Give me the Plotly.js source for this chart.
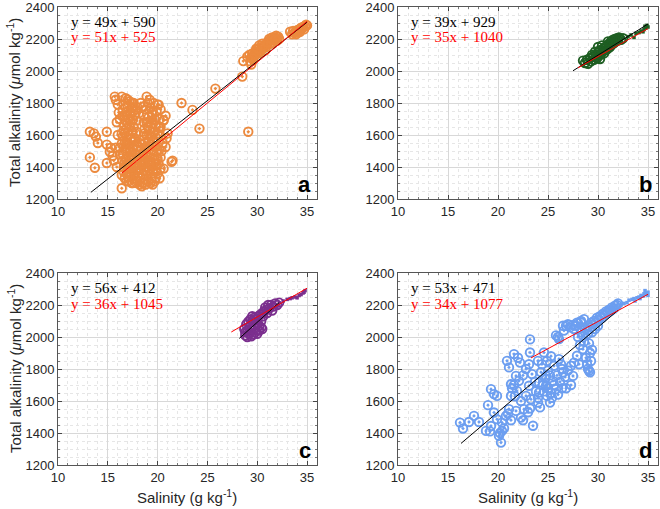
<!DOCTYPE html>
<html>
<head>
<meta charset="utf-8">
<script src="https://cdn.plot.ly/plotly-3.0.1.min.js"></script>
<style>html,body{margin:0;padding:0;background:#fff;}#chart{width:660px;height:509px;}</style>
</head>
<body>
<div id="chart"></div>
<script>
// ---------- DATA ----------
// Panel a (orange)
const aX = [16.4,16.8,17.2,17.6,16.6,17.0,17.4,17.8,16.9,17.3,16.5,17.7,17.1,16.8,17.5,16.6,17.2,17.6,16.9,17.4,16.7,17.1,17.8,16.5,17.3,16.9,17.6,16.4,17.1,17.5,16.8,16.2,17.9,18.0,18.3,18.6,18.1,15.8,16.0,16.1,15.9,
  18.9,19.2,19.6,20.0,18.8,19.3,19.9,18.6,19.1,19.5,20.2,18.9,19.4,19.8,18.7,19.2,19.7,20.1,18.9,19.4,19.9,18.6,19.1,19.6,20.3,20.6,20.3,
  16.5,16.8,17.0,17.2,16.6,16.9,16.4,17.3,17.6,17.4,17.7,17.9,18.1,18.3,18.5,18.2,18.7,18.9,19.1,19.4,19.6,19.2,18.8,18.4,18.0,17.8,18.2,18.6,19.0,19.4,19.8,20.1,19.7,19.3,18.9,18.5,19.1,19.5,19.9,20.3,20.0,20.4,17.5,17.2,16.8,17.0,18.0,17.8,18.6,19.0,19.8,20.0,17.5,19.5,18.3,17.6,16.9,20.6,20.5,
  16.7,17.1,17.4,17.9,18.4,18.8,19.3,19.7,20.2,20.3,20.0,19.6,19.2,18.7,18.3,17.9,17.4,17.1,16.7,16.6,17.0,17.5,18.0,18.5,19.0,19.5,19.9,19.4,19.8,20.2,18.8,18.4,18.0,17.6,17.2,18.7,18.2,19.0,18.5,16.9,16.5,17.3,
  16.5,17.0,17.4,16.7,17.2,16.6,17.0,17.4,16.7,17.7,17.9,17.3,16.4,17.6,19.0,19.4,19.7,19.0,19.5,20.0,18.7,19.3,20.3,18.6,
  13.2,13.2,13.7,13.8,14.0,13.6,14.9,14.9,14.9,15.2,15.5,15.7,15.8,15.6,15.9,16.4,16.2,15.3,20.1,20.6,20.2,20.9,20.8,21.4,21.5,22.4,23.5,24.2,25.8,28.5,28.6,29.1,16.2,16.0,21.0,20.8,
  29.0,29.2,29.4,29.5,29.7,29.8,30.0,30.1,30.3,30.4,30.6,30.7,30.9,31.0,31.1,31.3,31.4,31.5,31.6,31.7,31.8,31.9,32.0,32.1,30.2,30.5,31.2,29.9,30.8,31.5,29.3,29.6,32.0,29.4,
  29.8,30.2,30.6,31.0,31.4,29.5,30.0,31.8,32.2,
  33.3,33.5,33.6,33.8,34.0,34.2,34.3,34.5,34.6,34.7,34.8,34.9,35.0,34.4,33.9,34.1];
const aY = [1840,1830,1810,1800,1790,1775,1770,1760,1745,1735,1720,1725,1700,1690,1695,1665,1660,1650,1640,1625,1610,1600,1610,1590,1580,1565,1560,1545,1540,1525,1515,1520,1690,1770,1800,1780,1735,1820,1790,1740,1680,
  1840,1820,1800,1790,1760,1770,1750,1720,1710,1730,1700,1680,1670,1660,1640,1630,1620,1645,1600,1590,1580,1570,1560,1555,1650,1690,1590,
  1480,1450,1420,1390,1400,1370,1350,1340,1360,1450,1420,1390,1360,1330,1300,1290,1320,1350,1310,1330,1360,1380,1400,1420,1450,1480,1500,1470,1440,1410,1390,1420,1450,1480,1510,1540,1530,1510,1490,1460,1530,1500,1510,1490,1500,1550,1310,1330,1380,1400,1330,1360,1300,1290,1460,1400,1310,1390,1550,
  1330,1310,1300,1300,1280,1290,1300,1310,1330,1390,1450,1420,1440,1440,1390,1420,1420,1460,1430,1370,1340,1380,1340,1350,1370,1380,1420,1540,1530,1510,1480,1510,1530,1470,1520,1550,1550,1470,1420,1410,1440,1400,
  1760,1820,1800,1720,1740,1630,1670,1560,1550,1580,1620,1690,1610,1750,1800,1740,1700,1650,1690,1610,1610,1600,1760,1680,
  1620,1460,1395,1590,1550,1610,1620,1540,1425,1495,1470,1840,1520,1440,1400,1267,1480,1520,1790,1693,1650,1580,1525,1433,1440,1800,1757,1640,1890,1965,2062,1620,1700,1600,1610,1720,
  2090,2100,2085,2110,2100,2120,2110,2135,2125,2145,2140,2155,2150,2165,2180,2170,2190,2175,2200,2190,2210,2220,2205,2215,2160,2170,2200,2140,2130,2210,2060,2070,2190,2040,
  2100,2110,2160,2180,2205,2080,2140,2195,2200,
  2245,2230,2250,2240,2255,2260,2245,2265,2275,2260,2280,2290,2285,2270,2230,2240];

// Panel b (green)
const bX = [28.5,28.7,28.9,29.0,29.2,29.3,29.5,29.6,29.8,29.9,30.0,30.1,30.2,30.3,30.4,30.5,30.6,30.7,30.8,30.9,31.0,31.1,31.2,31.3,31.4,31.5,31.6,31.7,31.8,31.9,32.0,32.1,32.3,30.0,30.4,29.7,31.0,29.4,30.2,32.5];
const bY = [2065,2050,2070,2045,2080,2060,2090,2070,2100,2080,2115,2095,2130,2105,2120,2140,2110,2150,2130,2160,2140,2170,2150,2185,2165,2195,2175,2200,2185,2205,2190,2210,2195,2150,2160,2120,2185,2100,2075,2205];
const bDotX = [33.0,33.3,33.6,33.8,34.1,34.3,34.5,34.6,34.8,34.9,35.0,34.7];
const bDotY = [2215,2225,2210,2235,2240,2250,2245,2260,2270,2285,2275,2280];

// Panel c (purple)
const cX = [28.8,29.0,29.2,29.4,29.6,29.8,30.0,30.2,29.0,29.2,29.4,29.6,29.8,30.0,30.2,30.4,28.9,29.1,29.3,29.5,29.7,29.9,30.1,30.3,30.5,30.7,30.9,30.6,30.8,31.0,31.2,31.4,31.6,31.8,32.0,32.2,31.5,30.4,28.7,28.8,30.5,29.5,31.1];
const cY = [2010,2000,2020,2005,2015,2030,2020,2040,2040,2060,2050,2070,2060,2080,2070,2060,2080,2095,2110,2100,2120,2110,2130,2140,2150,2160,2170,2130,2185,2150,2180,2200,2190,2210,2200,2215,2165,2100,2050,2030,2050,2130,2200];
const cDotX = [32.6,33.0,33.3,33.5,33.8,34.0,34.2,34.4,34.6,34.8,34.7];
const cDotY = [2225,2235,2240,2245,2250,2245,2260,2265,2275,2290,2280];

// Panel d (blue)
const dX = [16.2,16.5,17.1,17.6,18.1,18.8,19.0,19.3,19.6,19.9,19.3,19.6,19.9,20.1,20.3,20.4,20.4,20.8,21.1,20.9,21.1,21.3,21.3,21.6,21.8,22.1,21.9,22.3,21.8,22.3,22.6,22.8,22.8,23.2,23.2,23.1,23.4,23.1,23.3,23.2,23.5,24.0,24.1,24.1,24.0,24.4,24.6,24.8,24.8,24.9,25.5,25.6,25.8,26.1,26.1,26.5,26.8,26.8,27.3,27.5,27.8,27.9,28.1,28.5,28.9,29.1,28.3,28.6,
  24.5,24.7,25.0,25.2,25.0,25.3,25.6,25.9,26.2,26.4,26.0,25.4,24.6,24.3,24.9,25.3,26.3,26.7,27.0,27.6,22.0,22.2,21.6,21.4,22.5,23.7,23.8,24.2,25.2,20.6,21.0,21.7,22.5,23.0,26.4,27.3,24.0,19.2,21.3,20.2,
  28.0,28.3,28.5,28.7,28.9,29.0,29.2,29.3,29.5,29.6,29.8,29.9,30.1,30.2,30.4,30.5,30.7,30.8,31.0,31.1,31.3,31.4,31.6,31.7,31.9,32.0,29.4,29.0,28.6,29.7,30.0,28.2,27.6,27.2,26.6,26.0,25.8,27.9,26.5,27.0,27.5,28.0,28.3,29.1,29.2,29.3,29.0,29.2,28.8,29.4];
const dY = [1465,1428,1469,1507,1469,1413,1574,1674,1643,1632,1444,1528,1486,1382,1340,1413,1465,1507,1549,1851,1810,1705,1632,1893,1757,1726,1663,1600,1538,1496,1549,1632,1800,1985,1903,1830,1768,1695,1611,1553,1445,1590,1653,1716,1851,1830,1903,1757,1695,1632,1726,1820,1674,1987,1862,1778,1680,2070,1820,1757,2070,1883,1830,1924,1830,1789,2091,2112,
  1700,1740,1680,1760,1790,1650,1700,1760,1720,1680,1640,1620,1660,1780,1850,1880,1830,1750,1790,1840,1870,1840,1700,1680,1760,1720,1660,1560,1590,1430,1520,1630,1480,1530,1800,1700,1620,1410,1480,1400,
  2000,2030,2010,2050,2040,2070,2060,2090,2080,2100,2090,2120,2110,2130,2120,2145,2140,2160,2155,2170,2165,2185,2180,2195,2200,2210,2030,2020,1970,2050,2070,1950,2050,2060,2040,2000,2010,2090,2070,2080,2075,2085,2100,1960,1900,1850,1800,1780,1870,1920];
const dDotX = [32.3,32.6,32.9,33.1,33.4,33.6,33.9,34.1,34.3,34.5,34.6,34.8,35.0,34.9,34.2,33.7,35.0,34.7];
const dDotY = [2200,2210,2215,2230,2235,2240,2245,2250,2260,2255,2270,2275,2280,2265,2240,2225,2260,2290];

// Regression fits: [slope, intercept], line x-extent
const panels = ['a','b','c','d'];
const blackFit = [[49,590],[39,929],[56,412],[53,471]];
const redFit   = [[51,525],[35,1040],[36,1045],[34,1077]];
const blackRange = [[13.3,35],[27.5,35],[28.2,32.2],[16.3,32.0]];
const redRange   = [[16.4,35],[28.0,35],[27.4,35],[23.3,35]];
const blackLabels = ['y = 49x + 590','y = 39x + 929','y = 56x + 412','y = 53x + 471'];
const redLabels   = ['y = 51x + 525','y = 35x + 1040','y = 36x + 1045','y = 34x + 1077'];
const xTicks = [10,15,20,25,30,35];
const yTicks = [1200,1400,1600,1800,2000,2200,2400];
const yTitle = 'Total alkalinity (<i>μ</i>mol kg<sup>-1</sup>)';
const xTitle = 'Salinity (g kg<sup>-1</sup>)';

// ---------- BUILD ----------
const colors = ['#EC8A3E','#1E5E22','#7B2F8E','#6C9EF0'];
const pts = [[aX,aY],[bX,bY],[cX,cY],[dX,dY]];
const dots = [null,[bDotX,bDotY],[cDotX,cDotY],[dDotX,dDotY]];
const traces = [];
panels.forEach((p,i)=>{
  const xa = i===0?'x':'x'+(i+1), ya = i===0?'y':'y'+(i+1);
  traces.push({x:pts[i][0], y:pts[i][1], xaxis:xa, yaxis:ya, type:'scatter', mode:'markers',
    marker:{symbol:'circle-open-dot', size:8.5, color:colors[i], line:{width:1.9, color:colors[i]}}, hoverinfo:'skip'});
  if(dots[i]) traces.push({x:dots[i][0], y:dots[i][1], xaxis:xa, yaxis:ya, type:'scatter', mode:'markers',
    marker:{symbol:'square', size:3.5, color:colors[i]}, hoverinfo:'skip'});
  const bl = blackRange[i], rl = redRange[i];
  traces.push({x:bl, y:bl.map(v=>blackFit[i][0]*v+blackFit[i][1]), xaxis:xa, yaxis:ya, mode:'lines', line:{color:'#000', width:1}, hoverinfo:'skip'});
  traces.push({x:rl, y:rl.map(v=>redFit[i][0]*v+redFit[i][1]), xaxis:xa, yaxis:ya, mode:'lines', line:{color:'#ff0000', width:1}, hoverinfo:'skip'});
});

const W=660,H=509;
const boxes = [[58,317,7,199],[398,658,7,199],[58,317,273,465],[398,658,273,465]];
const font = {family:'Liberation Sans, Arial, sans-serif', size:13, color:'#262626'};
const layout = {width:W, height:H, margin:{l:0,r:0,t:0,b:0}, showlegend:false,
  paper_bgcolor:'#fff', plot_bgcolor:'#fff', font:font, annotations:[]};
boxes.forEach((b,i)=>{
  const xk = i===0?'xaxis':'xaxis'+(i+1), yk = i===0?'yaxis':'yaxis'+(i+1);
  const ya = i===0?'y':'y'+(i+1), xa = i===0?'x':'x'+(i+1);
  layout[xk] = {domain:[b[0]/W,b[1]/W], range:[10,36], anchor:ya, tickvals:xTicks, ticks:'inside', ticklen:4,
    tickcolor:'#444', showline:true, mirror:'ticks', linecolor:'#555', linewidth:1, zeroline:false,
    gridcolor:'#d8d8d8', gridwidth:1, tickfont:font, ticklabeloverflow:'allow',
    minor:{dtick:1, ticks:'inside', ticklen:2, tickcolor:'#777', showgrid:true, gridcolor:'#e6e6e6', griddash:'dot', gridwidth:1}};
  layout[yk] = {domain:[1-b[3]/H,1-b[2]/H], range:[1200,2400], anchor:xa, tickvals:yTicks, ticks:'inside', ticklen:4,
    tickcolor:'#444', showline:true, mirror:'ticks', linecolor:'#555', linewidth:1, zeroline:false,
    gridcolor:'#d8d8d8', gridwidth:1, tickfont:font, ticklabeloverflow:'allow',
    minor:{dtick:50, ticks:'inside', ticklen:2, tickcolor:'#777', showgrid:true, gridcolor:'#e6e6e6', griddash:'dot', gridwidth:1}};
  const tx = b[0]+11;
  layout.annotations.push({xref:'paper', yref:'paper', x:tx/W, y:1-(b[2]+15)/H, xanchor:'left', yanchor:'middle',
    text:blackLabels[i], showarrow:false, font:{family:'Liberation Serif, Times New Roman, serif', size:15, color:'#000'}});
  layout.annotations.push({xref:'paper', yref:'paper', x:tx/W, y:1-(b[2]+30.5)/H, xanchor:'left', yanchor:'middle',
    text:redLabels[i], showarrow:false, font:{family:'Liberation Serif, Times New Roman, serif', size:15, color:'#ff0000'}});
  layout.annotations.push({xref:'paper', yref:'paper', x:(b[1]-4)/W, y:1-(b[3]-15)/H, xanchor:'right', yanchor:'middle',
    text:'<b>'+panels[i]+'</b>', showarrow:false, font:{family:'Liberation Sans, Arial, sans-serif', size:22, color:'#000'}});
});
// axis titles
[[0,103],[0,369]].forEach(p=>{
  layout.annotations.push({xref:'paper', yref:'paper', x:14/W, y:1-p[1]/H, xanchor:'center', yanchor:'middle', textangle:-90,
    text:yTitle, showarrow:false, font:{family:'Liberation Sans, Arial, sans-serif', size:15, color:'#262626'}});
});
[187,528].forEach(cx=>{
  layout.annotations.push({xref:'paper', yref:'paper', x:cx/W, y:1-496/H, xanchor:'center', yanchor:'middle',
    text:xTitle, showarrow:false, font:{family:'Liberation Sans, Arial, sans-serif', size:15, color:'#262626'}});
});

Plotly.newPlot('chart', traces, layout, {staticPlot:true, displayModeBar:false});
</script>
</body>
</html>
